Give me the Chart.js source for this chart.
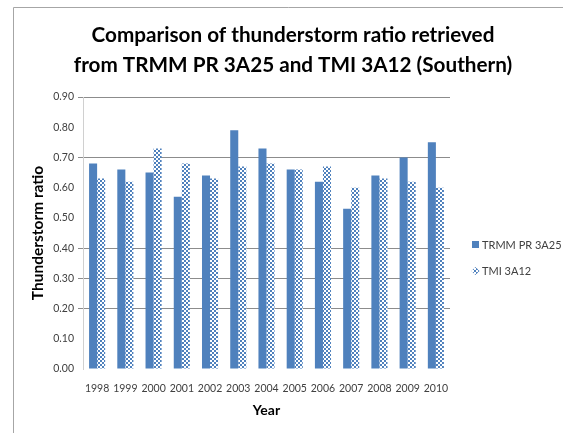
<!DOCTYPE html>
<html>
<head>
<meta charset="utf-8">
<script src="https://cdn.jsdelivr.net/npm/chart.js@4/dist/chart.umd.min.js"></script>
<style>
  html, body { margin: 0; padding: 0; background: #ffffff; }
  #wrap { width: 563px; height: 433px; position: relative; }
</style>
</head>
<body>
<div id="wrap"><canvas id="c" width="563" height="433"></canvas></div>
<script>
// ---- data ----
const years = ['1998','1999','2000','2001','2002','2003','2004','2005','2006','2007','2008','2009','2010'];
const trmmPR3A25 = [0.68, 0.66, 0.65, 0.57, 0.64, 0.79, 0.73, 0.66, 0.62, 0.53, 0.64, 0.70, 0.75];
const tmi3A12    = [0.63, 0.62, 0.73, 0.68, 0.63, 0.67, 0.68, 0.66, 0.67, 0.60, 0.63, 0.62, 0.60];
const seriesNames = ['TRMM PR 3A25', 'TMI 3A12'];
const titleLines = ['Comparison of thunderstorm ratio retrieved', 'from TRMM PR 3A25 and TMI 3A12 (Southern)'];
const yTitle = 'Thunderstorm ratio';
const xTitle = 'Year';
const visibleGrid = [0.9, 0.7, 0.4, 0.3, 0.2];

const BLUE = '#4F81BD';
function makePattern() {
  const p = document.createElement('canvas');
  p.width = 4; p.height = 4;
  const g = p.getContext('2d');
  g.fillStyle = '#ffffff'; g.fillRect(0, 0, 4, 4);
  g.fillStyle = BLUE;
  g.fillRect(0, 0, 2, 2);
  g.fillRect(2, 2, 2, 2);
  return g.createPattern(p, 'repeat');
}
const ctx = document.getElementById('c').getContext('2d');
const checker = makePattern();

const framePlugin = {
  id: 'frame',
  beforeDraw(chart) {
    const c = chart.ctx;
    c.save();
    c.fillStyle = '#ffffff';
    c.fillRect(0, 0, chart.width, chart.height);
    c.strokeStyle = '#a6a6a6';
    c.lineWidth = 1;
    c.beginPath();
    c.moveTo(13.5, chart.height);
    c.lineTo(13.5, 7.5);
    c.lineTo(chart.width, 7.5);
    c.stroke();
    c.restore();
  }
};

const legendPlugin = {
  id: 'customLegend',
  afterDraw(chart) {
    const c = chart.ctx;
    c.save();
    c.font = '11px Lato';
    c.textBaseline = 'middle';
    const x = 472, ys = [245, 271];
    chart.data.datasets.forEach((ds, i) => {
      const y = ys[i];
      if (i === 0) {
        c.fillStyle = BLUE;
        c.fillRect(x, y - 4, 7, 7);
      } else {
        c.fillStyle = checker;
        c.beginPath();
        c.moveTo(x + 3.5, y - 4);
        c.lineTo(x + 7.5, y);
        c.lineTo(x + 3.5, y + 4);
        c.lineTo(x - 0.5, y);
        c.closePath();
        c.fill();
      }
      c.fillStyle = '#404040';
      c.fillText(ds.label, x + 10, y);
    });
    c.restore();
  }
};

new Chart(ctx, {
  type: 'bar',
  data: {
    labels: years,
    datasets: [
      { label: seriesNames[0], data: trmmPR3A25, backgroundColor: BLUE, borderWidth: 0,
        categoryPercentage: 0.57, barPercentage: 1.0 },
      { label: seriesNames[1], data: tmi3A12, backgroundColor: checker, borderWidth: 0,
        categoryPercentage: 0.57, barPercentage: 1.0 }
    ]
  },
  options: {
    responsive: false,
    animation: false,
    devicePixelRatio: 1,
    layout: { padding: { left: 23, right: 0, top: 0, bottom: 14 } },
    plugins: {
      legend: { display: false },
      tooltip: { enabled: false },
      title: {
        display: true,
        text: titleLines,
        color: '#000000',
        font: { family: 'Lato', size: 20.7, weight: 'bold', lineHeight: 1.45 },
        padding: { top: 20, bottom: 17 }
      }
    },
    scales: {
      x: {
        grid: { display: false },
        border: { display: false },
        ticks: { color: '#404040', font: { family: 'Lato', size: 10.5 }, padding: 5, maxRotation: 0, autoSkip: false },
        title: { display: true, text: xTitle, color: '#000000', font: { family: 'Lato', size: 14, weight: 'bold' }, padding: { top: 4, bottom: 0 } },
        afterFit(s) { s.height = 50; }
      },
      y: {
        min: 0, max: 0.9,
        ticks: { stepSize: 0.1, color: '#404040', font: { family: 'Lato', size: 10.5 }, padding: 4,
                 callback: v => Number(v).toFixed(2) },
        grid: {
          tickLength: 5,
          color: c => visibleGrid.some(g => Math.abs(g - c.tick.value) < 1e-6) ? '#8c8c8c' : 'rgba(0,0,0,0)',
          lineWidth: 1
        },
        border: { display: true, color: '#d0d0d0' },
        title: { display: true, text: yTitle, color: '#000000', font: { family: 'Lato', size: 15.5, weight: 'bold' }, padding: { top: 6, bottom: 0 } },
        afterFit(s) { s.width = 60; }
      },
      yLegendSpace: {
        position: 'right',
        display: true,
        min: 0, max: 0.9,
        grid: { display: false, drawTicks: false },
        border: { display: false },
        ticks: { display: false },
        afterFit(s) { s.width = 113; }
      }
    }
  },
  plugins: [framePlugin, legendPlugin]
});
</script>
</body>
</html>
